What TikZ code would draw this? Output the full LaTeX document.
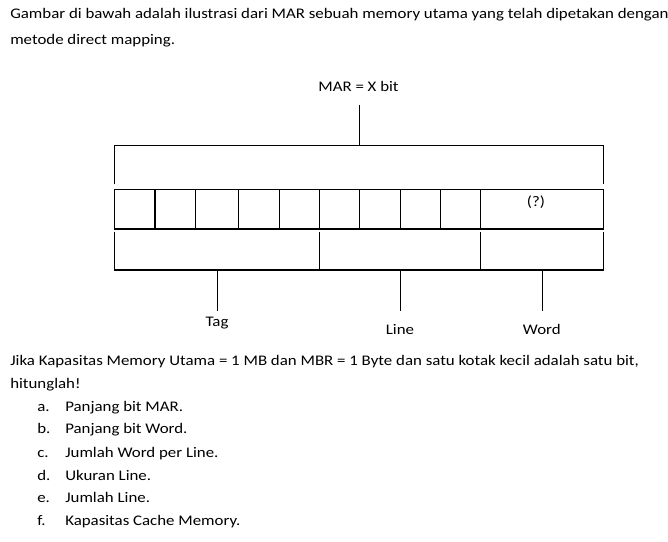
\documentclass[tikz,border=0pt]{standalone}
\usepackage{fontspec}
\setmainfont{Carlito}[FakeStretch=1.15]
\usepackage{tikz}

\tikzset{
  txt/.style={font=\fontsize{11}{13}\selectfont, inner sep=0pt, anchor=base west},
  lbl/.style={font=\fontsize{11}{13}\selectfont, inner sep=0pt, anchor=base},
  reg/.style={draw=black, line width=0.8pt}
}

\begin{document}
\begin{tikzpicture}[x=0.75pt, y=-0.75pt, line join=miter]

  \useasboundingbox (0,0) rectangle (668,542);

  % opening text
  \node[txt] (intro1) at (10,19)
    {Gambar di bawah adalah ilustrasi dari MAR sebuah memory utama yang telah dipetakan dengan};
  \node[txt] (intro2) at (10,45) {metode direct mapping.};

  % MAR label and its stem
  \node[lbl] (mar) at (358.5,91.7) {MAR = X bit};
  \coordinate (marStem) at (359.3,105);
  \coordinate (marJoin) at (359.3,145.7);
  \draw[reg] (marStem) -- (marJoin);

  % upper bracket (whole address)
  \draw[reg] (114.3,184.3) |- (marJoin) -| (603.3,184.3);

  % row of bits
  \draw[reg] (114.3,189.3) rectangle (603.3,229);
  \foreach \x in {155,195.7,238.3,279.3,319.3,359.3,400.3,440.3,480.3}
    \draw[reg] (\x,189.3) -- (\x,229);
  \node[lbl, anchor=center] (unk) at (536,201.7) {(?)};

  % lower bracket (tag / line / word fields)
  \draw[reg] (114.3,231.7) |- (603.3,270) -- (603.3,231.7);
  \foreach \x in {319.3,480.3}
    \draw[reg] (\x,231.7) -- (\x,270);

  % field ticks and labels
  \foreach \x/\y/\name/\word in {217.5/326.5/tag/Tag, 400.5/334/line/Line, 542.3/334/word/Word} {
    \coordinate (\name Top) at (\x,270);
    \coordinate (\name End) at (\x,310.7);
    \draw[reg] (\name Top) -- (\name End);
    \node[lbl] (\name) at (\x-0.5,\y) {\word};
  }

  % question text
  \node[txt] (ask1) at (10,365)
    {Jika Kapasitas Memory Utama = 1 MB dan MBR = 1 Byte dan satu kotak kecil adalah satu bit,};
  \node[txt] (ask2) at (10,388) {hitunglah!};

  % list of questions
  \foreach \y/\k/\q in {411/a/Panjang bit MAR.,
                        433.5/b/Panjang bit Word.,
                        457/c/Jumlah Word per Line.,
                        480/d/Ukuran Line.,
                        502.5/e/Jumlah Line.,
                        525/f/Kapasitas Cache Memory.} {
    \node[txt] (item\k) at (37,\y) {\k.};
    \node[txt] (text\k) at (65,\y) {\q};
  }

\end{tikzpicture}
\end{document}
